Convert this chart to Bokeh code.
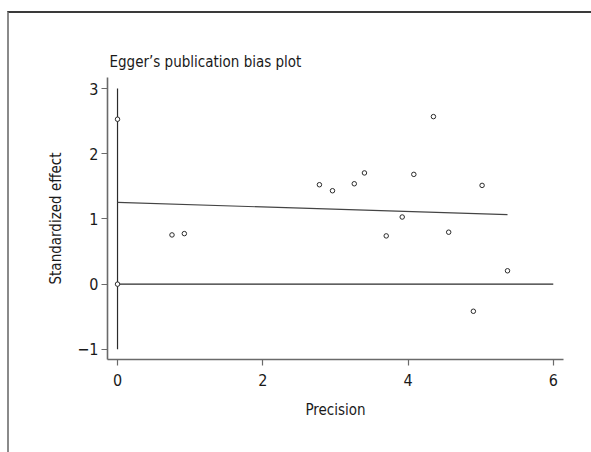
from bokeh.plotting import figure
from bokeh.models import Range1d, FixedTicker, ColumnDataSource
from bokeh.embed import file_html
from bokeh.resources import INLINE

# ---- data ----
precision = [0.0, 0.0, 0.75, 0.92, 2.78, 2.96, 3.26, 3.40, 3.70, 3.92,
             4.08, 4.35, 4.56, 4.90, 5.02, 5.37]
std_effect = [2.53, 0.0, 0.755, 0.775, 1.525, 1.433, 1.54, 1.706, 0.74, 1.03,
              1.684, 2.57, 0.797, -0.416, 1.515, 0.205]
reg_intercept = 1.253
reg_slope = -0.0345
x_ticks = [0, 2, 4, 6]
y_ticks = [-1, 0, 1, 2, 3]
y_tick_labels = ["\u22121", "0", "1", "2", "3"]
title_text = "Egger\u2019s publication bias plot"
x_label = "Precision"
y_label = "Standardized effect"

FONT = "'Liberation Sans Narrow', 'DejaVu Sans Condensed', 'Roboto', sans-serif"
DARK = "#2b2b2b"
AXIS = "#6a6a6a"

# the figure is offset by a thin graph border (left 7px + 2px, top 11px + 2px)
OFF_X, OFF_Y = 9, 13

p = figure(width=591 - OFF_X, height=452 - OFF_Y, output_backend="svg",
           toolbar_location=None,
           x_range=Range1d(-0.138, 6.141), y_range=Range1d(-1.156, 3.17),
           min_border_left=107 - OFF_X, min_border_right=30,
           min_border_top=77 - OFF_Y, min_border_bottom=95,
           background_fill_color="white", border_fill_color="white")
p.styles = {"margin-left": "7px", "margin-top": "11px",
            "border-left": "2px solid #8a8a8a", "border-top": "2px solid #3a3a3a",
            "box-sizing": "content-box"}
p.outline_line_color = None
p.grid.visible = False

# title
p.title.text = title_text
p.title.text_font = FONT
p.title.text_font_size = "15px"
p.title.text_font_style = "normal"
p.title.text_color = "#1a1a1a"
p.title.align = "left"
p.title.offset = 2
p.title.standoff = 14

# axes
for ax in (p.xaxis[0], p.yaxis[0]):
    ax.axis_line_color = AXIS
    ax.axis_line_width = 1.6
    ax.major_tick_line_color = AXIS
    ax.major_tick_line_width = 1.2
    ax.major_tick_out = 6
    ax.major_tick_in = 0
    ax.minor_tick_line_color = None
    ax.major_label_text_font = FONT
    ax.major_label_text_font_size = "16px"
    ax.major_label_text_color = "#1a1a1a"
    ax.axis_label_text_font = FONT
    ax.axis_label_text_font_size = "15px"
    ax.axis_label_text_font_style = "normal"
    ax.axis_label_text_color = "#1a1a1a"

p.xaxis[0].ticker = FixedTicker(ticks=x_ticks)
p.yaxis[0].ticker = FixedTicker(ticks=y_ticks)
p.yaxis[0].major_label_overrides = {t: l for t, l in zip(y_ticks, y_tick_labels)}
p.xaxis[0].axis_label = x_label
p.yaxis[0].axis_label = y_label
p.xaxis[0].major_label_standoff = 8
p.xaxis[0].axis_label_standoff = 12
p.yaxis[0].major_label_standoff = 3
p.yaxis[0].axis_label_standoff = 9
p.yaxis[0].major_label_orientation = "horizontal"

# reference lines: vertical at precision 0 across y tick span, horizontal at effect 0
p.segment(x0=[0], y0=[y_ticks[0]], x1=[0], y1=[y_ticks[-1]],
          line_color=DARK, line_width=1.2)
p.segment(x0=[0], y0=[0], x1=[x_ticks[-1]], y1=[0],
          line_color=DARK, line_width=1.2)

# regression line
xmax = max(precision)
p.segment(x0=[0], y0=[reg_intercept], x1=[xmax], y1=[reg_intercept + reg_slope * xmax],
          line_color="#444444", line_width=1.2)

# points
src = ColumnDataSource(dict(x=precision, y=std_effect))
p.scatter("x", "y", source=src, marker="circle", size=4.5,
          fill_color="white", line_color=DARK, line_width=1)

open("out.html", "w").write(file_html(p, INLINE))
